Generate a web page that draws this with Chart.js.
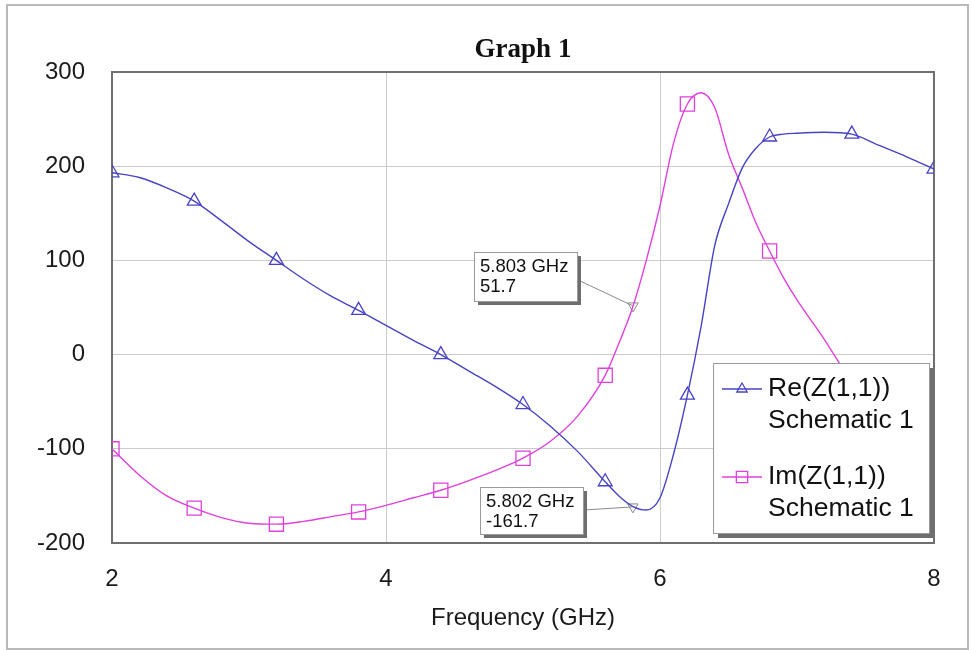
<!DOCTYPE html>
<html>
<head>
<meta charset="utf-8">
<title>Graph 1</title>
<script src="https://cdn.jsdelivr.net/npm/chart.js@4.4.1/dist/chart.umd.min.js"></script>
<style>
  html, body { margin: 0; padding: 0; background: #fff; }
  #wrap { width: 971px; height: 650px; }
</style>
</head>
<body>
<div id="wrap"><canvas id="myChart" width="971" height="650"></canvas></div>
<script>
// Frecuencias (GHz) y valores
const freqs = [2.0, 2.2, 2.4, 2.6, 2.8, 3.0, 3.2, 3.4, 3.6, 3.8, 4.0, 4.2, 4.4, 4.6, 4.8, 5.0, 5.2, 5.4, 5.6, 5.7,
               5.8, 5.9, 6.0, 6.1, 6.2, 6.3, 6.4, 6.5, 6.6, 6.7, 6.8, 6.9, 7.0, 7.2, 7.4, 7.6, 7.8, 8.0];
const reZ = [193, 188, 177, 163, 142, 120, 100, 80, 62, 47, 31, 15, 0, -17, -34, -53, -76, -103, -135, -150,
             -161, -165, -152, -105, -43, 30, 116, 160, 198, 219, 231, 234, 235, 236, 234, 222, 210, 197];
const imZ = [-100, -128, -150, -163, -173, -179, -180, -177, -172, -167, -160, -152, -144, -134, -123, -110, -92, -65, -22, 12,
             50, 100, 158, 225, 266, 278, 262, 213, 177, 140, 110, 82, 58, 16, -30, -72, -105, -130];
// frecuencias donde se dibujan los simbolos
const markerFreqs = [2.0, 2.6, 3.2, 3.8, 4.4, 5.0, 5.6, 6.2, 6.8, 7.4, 8.0];

// marcadores de lectura (cursor)
const cursorIm = { f: 5.803, v: 51.7 };
const cursorRe = { f: 5.802, v: -161.7 };

const reLabel = 'Re(Z(1,1))';
const imLabel = 'Im(Z(1,1))';
const subLabel = 'Schematic 1';

const reColor = '#4743c4';
const imColor = '#e040dc';
const sans = '"Liberation Sans", Arial, sans-serif';

const toPoints = (vals) => freqs.map((f, i) => ({ x: f, y: vals[i] }));
const markerRadius = (r) => (ctx) => (ctx.raw && markerFreqs.includes(ctx.raw.x)) ? r : 0;

// Marco exterior, titulo y borde del area del grafico
const framePlugin = {
  id: 'frame',
  beforeDraw(chart) {
    const c = chart.ctx;
    c.save();
    c.fillStyle = '#fff';
    c.fillRect(0, 0, chart.width, chart.height);
    c.strokeStyle = '#b9b9b9';
    c.lineWidth = 2;
    c.strokeRect(7, 5, 961, 644);
    const a = chart.chartArea;
    c.fillStyle = '#111';
    c.font = 'bold 27px "Liberation Serif", "Times New Roman", serif';
    c.textAlign = 'center';
    c.textBaseline = 'middle';
    c.fillText('Graph 1', (a.left + a.right) / 2, 50);
    c.restore();
  },
  beforeDatasetsDraw(chart) {
    const c = chart.ctx;
    const a = chart.chartArea;
    c.save();
    c.strokeStyle = '#6f6f6f';
    c.lineWidth = 2;
    c.strokeRect(a.left, a.top, a.right - a.left, a.bottom - a.top);
    c.restore();
  }
};

function shadowBox(c, x, y, w, h, off) {
  c.fillStyle = '#6e6e6e';
  c.fillRect(x + off, y + off, w, h);
  c.fillStyle = '#fff';
  c.fillRect(x, y, w, h);
  c.strokeStyle = '#9a9a9a';
  c.lineWidth = 1;
  c.strokeRect(x + 0.5, y + 0.5, w, h);
}

// Cuadros de lectura y leyenda dibujados sobre las curvas
const notesPlugin = {
  id: 'notes',
  afterDatasetsDraw(chart) {
    const c = chart.ctx;
    const xs = chart.scales.x;
    const ys = chart.scales.y;
    c.save();

    // lineas guia hacia los marcadores
    c.strokeStyle = '#8a8a8a';
    c.lineWidth = 1;
    c.beginPath();
    c.moveTo(578, 280);
    c.lineTo(xs.getPixelForValue(cursorIm.f), ys.getPixelForValue(cursorIm.v));
    c.moveTo(584, 510);
    c.lineTo(xs.getPixelForValue(cursorRe.f), ys.getPixelForValue(cursorRe.v));
    c.stroke();

    const notes = [
      { x: 474, y: 252, w: 103, h: 49, c: cursorIm },
      { x: 480, y: 487, w: 103, h: 47, c: cursorRe }
    ];
    notes.forEach(n => {
      shadowBox(c, n.x, n.y, n.w, n.h, 4);
      c.fillStyle = '#111';
      c.font = '18.5px ' + sans;
      c.textAlign = 'left';
      c.textBaseline = 'middle';
      c.fillText(n.c.f.toFixed(3) + ' GHz', n.x + 6, n.y + 15);
      c.fillText(n.c.v.toFixed(1), n.x + 6, n.y + 35);
    });

    // leyenda
    shadowBox(c, 713, 363, 216, 170, 5);
    const items = [
      { label: reLabel, color: reColor, style: 'triangle', r: 6, y: 389 },
      { label: imLabel, color: imColor, style: 'rect', r: 8, y: 477 }
    ];
    items.forEach(it => {
      c.strokeStyle = it.color;
      c.lineWidth = 1.3;
      c.beginPath();
      c.moveTo(722, it.y);
      c.lineTo(762, it.y);
      c.stroke();
      c.fillStyle = 'rgba(0,0,0,0)';
      Chart.helpers.drawPoint(c, { pointStyle: it.style, radius: it.r, borderWidth: 1.3, rotation: 0 }, 742, it.y);
      c.fillStyle = '#111';
      c.font = '26.5px ' + sans;
      c.textAlign = 'left';
      c.textBaseline = 'middle';
      c.fillText(it.label, 768, it.y);
      c.fillText(subLabel, 768, it.y + 32);
    });
    c.restore();
  }
};

const ctx = document.getElementById('myChart');
const myChart = new Chart(ctx, {
  type: 'line',
  data: {
    datasets: [
      {
        label: reLabel,
        data: toPoints(reZ),
        borderColor: reColor,
        borderWidth: 1.4,
        cubicInterpolationMode: 'monotone',
        pointStyle: 'triangle',
        pointRadius: markerRadius(8),
        pointBackgroundColor: 'rgba(0,0,0,0)',
        pointBorderColor: reColor,
        pointBorderWidth: 1.3
      },
      {
        label: imLabel,
        data: toPoints(imZ),
        borderColor: imColor,
        borderWidth: 1.4,
        cubicInterpolationMode: 'monotone',
        pointStyle: 'rect',
        pointRadius: markerRadius(10),
        pointBackgroundColor: 'rgba(0,0,0,0)',
        pointBorderColor: imColor,
        pointBorderWidth: 1.3
      },
      {
        label: 'cursor',
        data: [{ x: cursorIm.f, y: cursorIm.v }, { x: cursorRe.f, y: cursorRe.v }],
        showLine: false,
        pointStyle: 'triangle',
        rotation: 180,
        pointRadius: 6,
        pointBackgroundColor: 'rgba(0,0,0,0)',
        pointBorderColor: '#8a8a8a',
        pointBorderWidth: 1
      }
    ]
  },
  options: {
    responsive: false,
    animation: false,
    events: [],
    layout: { padding: { top: 72, right: 37, bottom: 0, left: 0 } },
    plugins: {
      legend: { display: false },
      title: { display: false },
      tooltip: { enabled: false }
    },
    scales: {
      x: {
        type: 'linear',
        min: 2,
        max: 8,
        ticks: { stepSize: 2, padding: 22, color: '#1a1a1a', font: { family: sans, size: 24 } },
        grid: { color: '#cccccc', drawTicks: false },
        border: { display: false },
        title: {
          display: true,
          text: 'Frequency (GHz)',
          color: '#1a1a1a',
          font: { family: sans, size: 24 },
          padding: { top: 4, bottom: 17 }
        },
        afterFit: (scale) => { scale.height = 107; }
      },
      y: {
        min: -200,
        max: 300,
        ticks: { stepSize: 100, padding: 27, color: '#1a1a1a', font: { family: sans, size: 24 } },
        grid: { color: '#cccccc', drawTicks: false },
        border: { display: false },
        afterFit: (scale) => { scale.width = 112; }
      }
    }
  },
  plugins: [framePlugin, notesPlugin]
});
</script>
</body>
</html>
